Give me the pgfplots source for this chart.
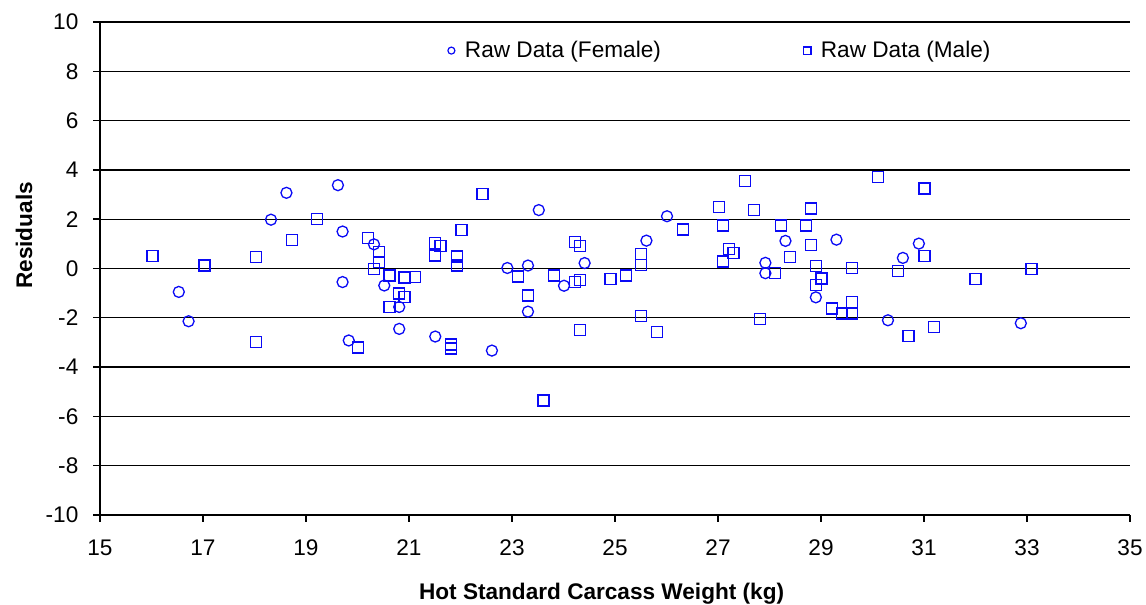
\documentclass[border=0pt]{standalone}
\usepackage{fontspec}
\setmainfont{Liberation Sans}
\usepackage{pgfplots}
\pgfplotsset{compat=1.18}
\definecolor{mk}{RGB}{10,10,245}
\begin{document}
\begin{tikzpicture}[font=\fontsize{11.3}{13.5}\selectfont]
\begin{axis}[
  name=ax,
  scale only axis,
  width=515pt, height=246.5pt,
  xmin=15, xmax=35, ymin=-10, ymax=10,
  xtick={15,17,...,35}, ytick={-10,-8,...,10},
  axis x line=bottom, axis y line=left,
  axis line style={-, line width=0.9pt, black},
  tick style={black, line width=0.7pt},
  tick align=outside,
  major tick length=3.3pt,
  ymajorgrids, grid style={black, line width=0.65pt},
  /pgf/number format/assume math mode=true,
  xticklabel style={yshift=-5.5pt},
  yticklabel style={xshift=-4pt},
  xlabel={\bfseries Hot Standard Carcass Weight (kg)},
  ylabel={\bfseries Residuals},
  xlabel style={at={(axis description cs:0.487,-0.159)}, anchor=center},
  ylabel style={at={(axis description cs:-0.0738,0.567)}, anchor=center, rotate=0},
  clip=false,
  legend columns=2,
  legend style={draw=none, fill=none, at={(axis description cs:0.3365,0.942)}, anchor=west, inner sep=0pt,
    /tikz/every even column/.append style={column sep=71pt},
    nodes={inner xsep=0pt}},
  legend image code/.code={\path[draw=none,fill=none] (-2.2pt,0pt) rectangle (6.8pt,0pt); \draw[#1] plot coordinates {(0pt,0pt)};},
]
\addplot[only marks, color=mk, mark=o, mark options={draw=mk, fill=none, line width=0.65pt}, mark size=2.75pt,
  forget plot] table {
x y
16.53 -0.95
16.72 -2.14
18.32 1.98
18.62 3.07
19.62 3.38
19.71 1.50
19.71 -0.55
19.83 -2.92
20.32 0.98
20.52 -0.69
20.81 -1.56
20.81 -2.45
21.51 -2.76
22.61 -3.33
22.91 0.02
23.31 0.12
23.31 -1.75
23.52 2.37
24.01 -0.70
24.41 0.22
25.61 1.13
26.01 2.12
27.92 0.23
27.92 -0.19
28.31 1.12
28.90 -1.17
29.30 1.17
30.30 -2.10
30.59 0.43
30.90 1.01
32.88 -2.22
};
\addplot[only marks, color=mk, mark=square, mark options={draw=mk, fill=none, line width=0.65pt}, mark size=2.75pt,
  forget plot] table {
x y
16.02 0.50
17.03 0.12
18.03 0.47
18.03 -2.97
18.73 1.17
19.22 2.02
20.01 -3.20
20.21 1.24
20.42 0.66
20.42 0.26
20.32 -0.03
20.62 -0.28
20.91 -0.36
21.12 -0.35
20.81 -1.01
20.91 -1.17
20.62 -1.56
21.51 1.03
21.61 0.92
21.51 0.53
21.82 -3.08
21.82 -3.24
22.02 1.55
21.93 0.49
21.93 0.12
22.43 3.01
23.11 -0.32
23.31 -1.10
23.61 -5.36
23.81 -0.28
24.23 -0.55
24.32 -0.48
24.23 1.08
24.32 0.92
24.32 -2.50
24.91 -0.42
25.22 -0.28
25.51 0.59
25.51 0.14
25.51 -1.94
25.81 -2.57
26.32 1.58
27.02 2.49
27.10 1.74
27.52 3.54
27.70 2.37
27.21 0.80
27.30 0.62
27.10 0.28
27.81 -2.06
28.11 -0.17
28.22 1.74
28.40 0.47
28.71 1.74
28.81 2.44
28.81 0.95
28.90 0.10
29.01 -0.40
28.90 -0.67
29.21 -1.62
29.41 -1.82
29.60 -1.82
29.60 -1.37
29.60 0.03
30.11 3.71
31.01 3.25
31.01 0.50
30.50 -0.09
30.70 -2.73
31.20 -2.38
32.00 -0.44
33.09 -0.03
};
\addlegendimage{only marks, color=mk, mark=o, mark options={draw=mk, fill=none, line width=0.6pt}, mark size=1.75pt}
\addlegendentry{Raw Data (Female)}
\addlegendimage{only marks, color=mk, mark=square, mark options={draw=mk, fill=none, line width=0.6pt}, mark size=1.8pt}
\addlegendentry{Raw Data (Male)}
\coordinate (bl) at (rel axis cs:0,0);
\coordinate (tr) at (rel axis cs:1,1);
\end{axis}
\pgfresetboundingbox
\useasboundingbox ([shift={(-50pt,-45pt)}]bl) rectangle ([shift={(8pt,11pt)}]tr);
\end{tikzpicture}
\end{document}
